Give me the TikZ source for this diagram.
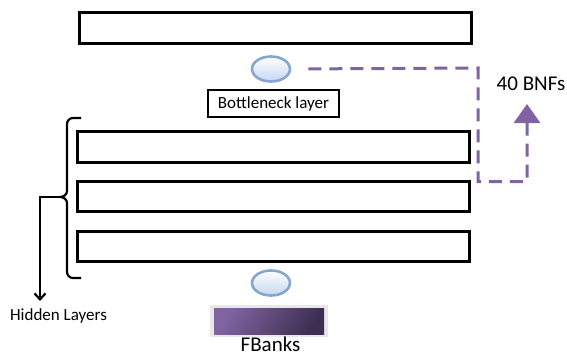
\documentclass[tikz,border=0pt]{standalone}
\usepackage{fontspec}
\setmainfont{Carlito}
\usetikzlibrary{arrows.meta,shapes.geometric}
\definecolor{bnfpurple}{HTML}{8064A2}
\definecolor{ellborder}{HTML}{86A6CF}
\definecolor{ellfill}{HTML}{C5D7EF}
\definecolor{fbA}{HTML}{8064A2}
\definecolor{fbB}{HTML}{3E2F52}
\definecolor{fbframe}{HTML}{E8E8EA}
\tikzset{
  x=1pt,y=-1pt,
  layerbox/.style={draw=black,line width=3pt,fill=white},
  unit/.style={ellipse,draw=ellborder,line width=2.6pt,minimum width=38pt,minimum height=25pt,inner sep=0pt,top color=white,bottom color=ellfill},
  bnf/.style={draw=bnfpurple,line width=3pt,dash pattern=on 13pt off 8pt},
  lbl/.style={font=\fontsize{17}{20}\selectfont,inner sep=0pt},
  biglbl/.style={font=\fontsize{21}{24}\selectfont,inner sep=0pt},
  brace/.style={draw=black,line width=2.2pt},
}
\begin{document}
\begin{tikzpicture}
\useasboundingbox (0,0) rectangle (567,356);
% layers
\path[layerbox] (79,12) rectangle (471,43);
\path[layerbox] (77,131) rectangle (469,162);
\path[layerbox] (77,181) rectangle (469,211);
\path[layerbox] (77,231) rectangle (469,261);
\node (top) at (275,27.5) {};
\node (h1) at (273,146.5) {};
\node (h2) at (273,196) {};
\node (h3) at (273,246) {};
% units
\node[unit] (e1) at (271,69) {};
\node[unit] (e2) at (271,283) {};
% bottleneck label
\node[lbl,draw=black,line width=2.6pt,minimum width=131pt,minimum height=27pt] (bl) at (273.5,103.5) {Bottleneck layer};
% FBanks
\node[fill=fbframe,minimum width=118pt,minimum height=32pt,inner sep=0pt] (fbf) at (269,321) {};
\path[left color=fbA,right color=fbB,shading angle=60] (214,308) rectangle (324,334);
\node[biglbl] (fb) at (270.5,344) {FBanks};
% BNF dashed connector
\coordinate (c1) at (478,68);
\coordinate (c2) at (478,181.5);
\coordinate (c3) at (527,181.5);
\coordinate (tip) at (527,104);
\node[biglbl] (bnf) at (531,84) {40 BNFs};
\draw[bnf,shorten <=17pt,-{Triangle[width=26pt,length=19pt,sep=0pt]}] (e1.east) -- (c1) -- (c2) -- (c3) -- (tip);
% brace
\coordinate (bt) at (81,118);
\coordinate (bm) at (60,197);
\coordinate (bb) at (81,278);
\draw[brace] (bt) -- (73,118) to[out=180,in=90] (67,124) -- (67,191) to[out=-90,in=0] (bm) to[out=0,in=90] (67,203) -- (67,272) to[out=-90,in=180] (73,278) -- (bb);
% arrow to Hidden Layers
\coordinate (ac) at (40,197);
\node[lbl] (hl) at (58.5,316) {Hidden Layers};
\draw[brace,-{Straight Barb[length=6pt,width=11pt]}] (bm) -- (ac) -- (40,301);
\end{tikzpicture}
\end{document}
